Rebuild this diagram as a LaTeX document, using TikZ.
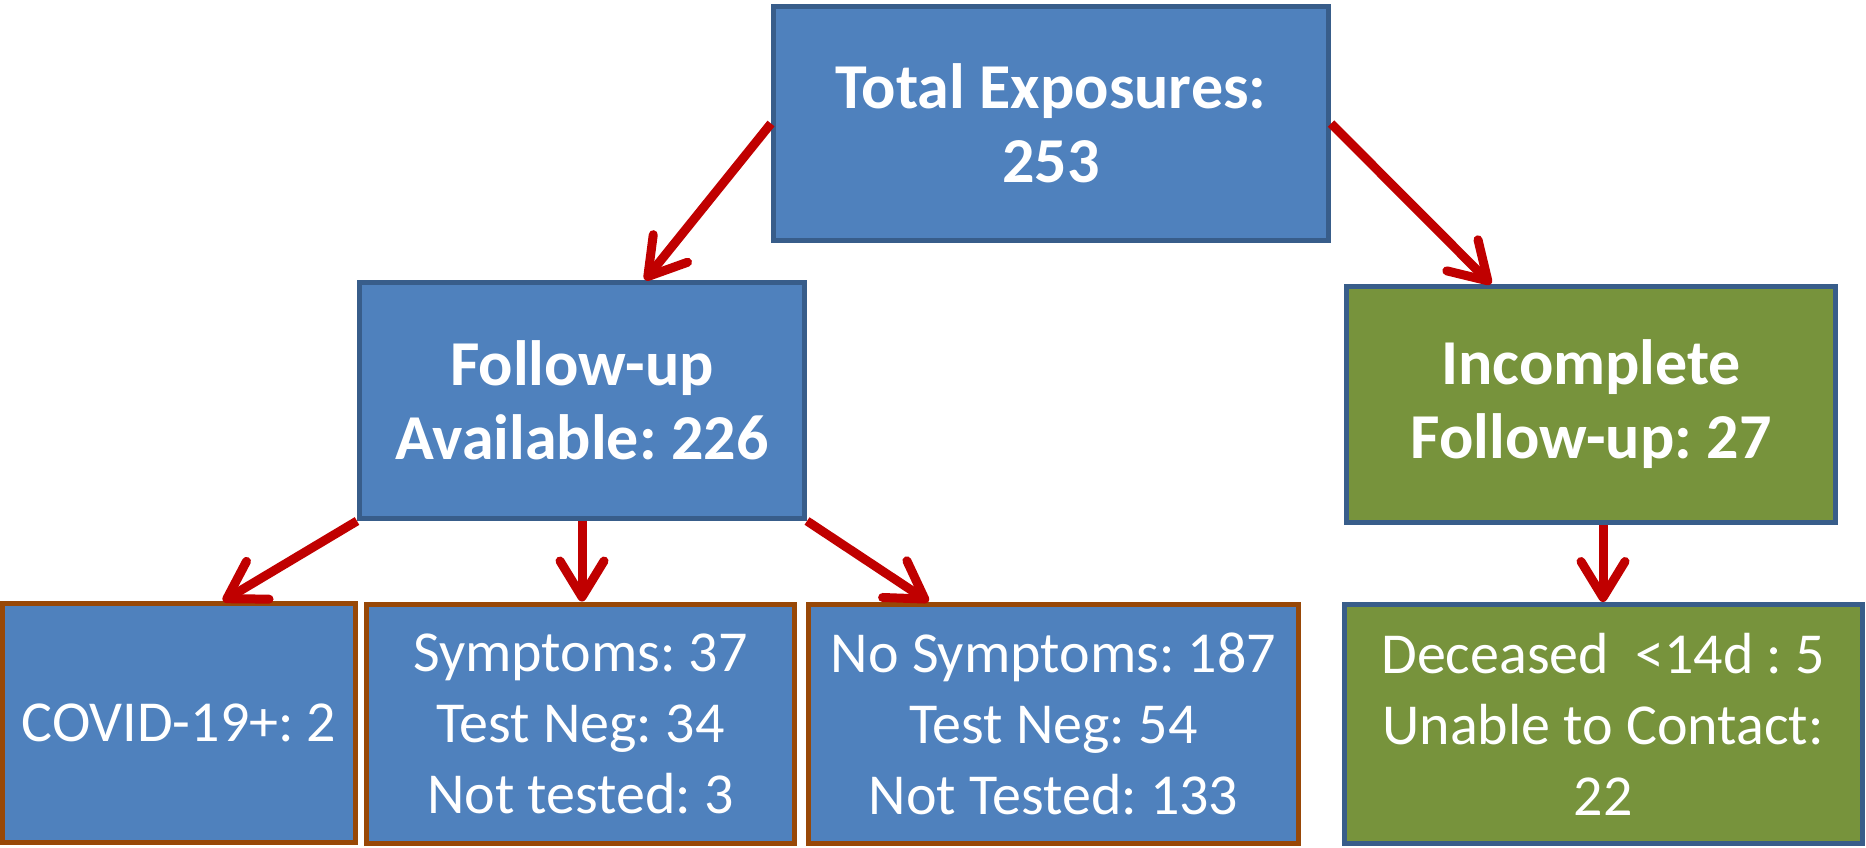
\documentclass[tikz,border=0pt]{standalone}
\usepackage{fontspec}
\setmainfont{Carlito}
\usepackage{tikz}
\usetikzlibrary{arrows.meta,positioning}
\definecolor{boxblue}{HTML}{4F81BD}
\definecolor{lineblue}{HTML}{385D8A}
\definecolor{boxgreen}{HTML}{77933C}
\definecolor{linebrown}{HTML}{984807}
\definecolor{arrowred}{HTML}{C00000}
\frenchspacing
\tikzset{headbox/.style={draw=lineblue, line width=2.5pt, fill=boxblue, text=white, align=center, inner sep=0pt, font=\fontsize{32}{37}\selectfont\bfseries}}
\tikzset{greenbox/.style={headbox, fill=boxgreen}}
\tikzset{countbox/.style={draw=linebrown, line width=2.5pt, fill=boxblue, text=white, align=center, inner sep=0pt, font=\fontsize{29}{35.5}\selectfont}}
\tikzset{flow/.style={draw=arrowred, line width=4.5pt, -{Straight Barb[length=18pt,width=22pt,round]}}}

\begin{document}
\begin{tikzpicture}[x=0.5pt,y=-0.5pt]
\useasboundingbox (0,0) rectangle (1866,847);

\node[headbox, minimum width=277.5pt, minimum height=117pt] (total) at (1051,123.5) {Total Exposures:\\253};
\node[headbox, minimum width=222.5pt, minimum height=118pt] (avail) at (582,400.5) {Follow-up\\Available: 226};
\node[greenbox, minimum width=244.5pt, minimum height=118pt] (incomp) at (1591,404.5) {Incomplete\\Follow-up: 27};

\node[countbox, minimum width=176.5pt, minimum height=119.5pt] (covid) at (179,723) {COVID-19+: 2};
\node[countbox, minimum width=214pt, minimum height=119.5pt] (sympt) at (580.5,723.5) {Symptoms: 37\\Test Neg: 34\\Not tested: 3};
\node[countbox, minimum width=245pt, minimum height=119.5pt] (nosympt) at (1053.5,723.5) {No Symptoms: 187\\Test Neg: 54\\Not Tested: 133};
\node[greenbox, font=\fontsize{29}{35.5}\selectfont, minimum width=259pt, minimum height=119.5pt] (lost) at (1603,724) {Deceased~~<14d : 5\\Unable to Contact:\\22};

\draw[flow] (total.west) -- ([xshift=31.5pt]avail.north);
\draw[flow] (total.east) -- ([xshift=-50pt]incomp.north);

\draw[flow] (avail.south west) -- ([xshift=22pt]covid.north);
\draw[flow] (avail.south) -- (avail.south |- sympt.north);
\draw[flow] (avail.south east) -- ([xshift=-62.5pt]nosympt.north);

\draw[flow] (lost.north |- incomp.south) -- (lost.north);
\end{tikzpicture}
\end{document}
